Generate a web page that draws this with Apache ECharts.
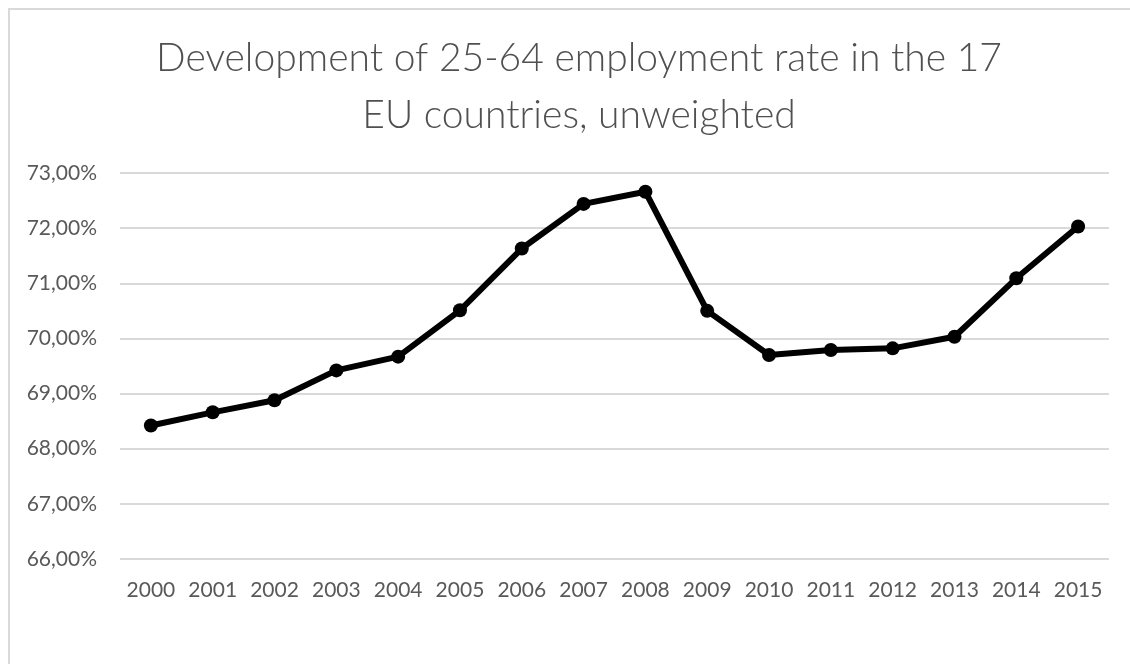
<!DOCTYPE html>
<html>
<head>
<meta charset="utf-8">
<title>Employment rate 25-64, EU-17</title>
<script src="https://cdn.jsdelivr.net/npm/echarts@6/dist/echarts.min.js"></script>
<style>
  html, body { margin: 0; padding: 0; background: #ffffff; }
  #chart { width: 1130px; height: 664px; }
</style>
</head>
<body>
<div id="chart"></div>
<script>
// Years on the category axis
const years = ['2000', '2001', '2002', '2003', '2004', '2005', '2006', '2007',
               '2008', '2009', '2010', '2011', '2012', '2013', '2014', '2015'];

// Unweighted average employment rate (age 25-64) of the 17 EU countries, in %
const employmentRate = [68.42, 68.66, 68.88, 69.42, 69.67, 70.51, 71.63, 72.44,
                        72.66, 70.50, 69.70, 69.79, 69.82, 70.03, 71.09, 72.03];

// Value axis range and step, in %
const yMin = 66;
const yMax = 73;
const yStep = 1;

const chartTitle = 'Development of 25-64 employment rate in the 17\nEU countries, unweighted';

const FONT = 'Lato, "Open Sans", sans-serif';
const TEXT_COLOR = '#595959';
const GRID_COLOR = '#d9d9d9';

const chart = echarts.init(document.getElementById('chart'), null, { renderer: 'canvas' });

chart.setOption({
  backgroundColor: '#ffffff',
  animation: false,
  title: {
    text: chartTitle,
    left: 574,
    top: 25,
    textAlign: 'center',
    textStyle: {
      fontFamily: FONT,
      fontWeight: 300,
      fontSize: 39,
      lineHeight: 57,
      color: '#505050'
    }
  },
  // chart-area frame (top and left edges visible)
  graphic: [{
    type: 'rect',
    shape: { x: 9, y: 9, width: 1200, height: 700 },
    style: { fill: 'none', stroke: GRID_COLOR, lineWidth: 2 },
    silent: true,
    z: -1
  }],
  grid: {
    left: 120,
    right: 21,
    top: 173,
    bottom: 105,
    containLabel: false
  },
  xAxis: {
    type: 'category',
    data: years,
    boundaryGap: true,
    axisLine: { show: false },
    axisTick: { show: false },
    splitLine: { show: false },
    axisLabel: {
      interval: 0,
      hideOverlap: false,
      margin: 21,
      fontFamily: FONT,
      fontSize: 21,
      color: TEXT_COLOR
    }
  },
  yAxis: {
    type: 'value',
    min: yMin,
    max: yMax,
    interval: yStep,
    axisLine: { show: false },
    axisTick: { show: false },
    splitLine: { lineStyle: { color: GRID_COLOR, width: 2 } },
    axisLabel: {
      margin: 23,
      fontFamily: FONT,
      fontSize: 21,
      color: TEXT_COLOR,
      formatter: v => v.toFixed(2).replace('.', ',') + '%'
    }
  },
  series: [{
    name: 'Employment rate 25-64',
    type: 'line',
    data: employmentRate,
    symbol: 'circle',
    symbolSize: 14,
    lineStyle: { color: '#000000', width: 6 },
    itemStyle: { color: '#000000' },
    z: 3
  }]
});
</script>
</body>
</html>
